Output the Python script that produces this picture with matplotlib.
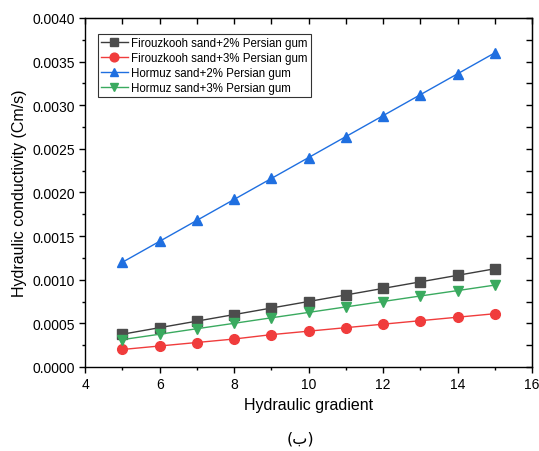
import matplotlib
matplotlib.use("Agg")
import matplotlib.pyplot as plt
from matplotlib.ticker import MultipleLocator

plt.rcParams['font.family'] = ['Liberation Sans', 'DejaVu Sans']

gradient = [5, 6, 7, 8, 9, 10, 11, 12, 13, 14, 15]
firouzkooh_2 = [0.000375, 0.00045, 0.000525, 0.0006, 0.000675, 0.00075, 0.000825, 0.0009, 0.000975, 0.00105, 0.001125]
firouzkooh_3 = [0.0002, 0.00024, 0.00028, 0.00032, 0.00037, 0.00041, 0.00045, 0.00049, 0.00053, 0.00057, 0.00061]
hormuz_2 = [0.0012, 0.00144, 0.00168, 0.00192, 0.00216, 0.0024, 0.00264, 0.00288, 0.00312, 0.00336, 0.0036]
hormuz_3 = [0.000313, 0.000375, 0.000438, 0.0005, 0.000563, 0.000625, 0.000688, 0.00075, 0.000813, 0.000875, 0.000938]
labels = ["Firouzkooh sand+2% Persian gum", "Firouzkooh sand+3% Persian gum",
          "Hormuz sand+2% Persian gum", "Hormuz sand+3% Persian gum"]

fig = plt.figure(figsize=(5.39, 4.52), dpi=100)
ax = fig.add_axes([0.158, 0.186, 0.829, 0.772])

styles = [
    dict(color='#3c3c3c', marker='s', mfc='#4d4d4d', mec='#4d4d4d'),
    dict(color='#f03c3c', marker='o', mfc='#f03c3c', mec='#f03c3c'),
    dict(color='#1f6fe0', marker='^', mfc='#1f6fe0', mec='#1f6fe0'),
    dict(color='#3aaa5f', marker='v', mfc='#3aaa5f', mec='#3aaa5f'),
]
for ys, lab, st in zip([firouzkooh_2, firouzkooh_3, hormuz_2, hormuz_3], labels, styles):
    ax.plot(gradient, ys, label=lab, lw=1.0, ms=7, **st)

ax.set_xlim(4, 16)
ax.set_ylim(0, 0.004)
ax.xaxis.set_major_locator(MultipleLocator(2))
ax.xaxis.set_minor_locator(MultipleLocator(1))
ax.yaxis.set_major_locator(MultipleLocator(0.0005))
ax.yaxis.set_minor_locator(MultipleLocator(0.00025))
ax.yaxis.set_major_formatter(plt.FuncFormatter(lambda v, p: f"{v:.4f}"))
ax.tick_params(axis='both', which='major', direction='out', length=4, width=1, labelsize=10, top=False, right=False)
ax.tick_params(axis='both', which='minor', direction='out', length=2.5, width=1, top=False, right=False)

# inward mirrored ticks on top and right
secx = ax.secondary_xaxis('top')
secx.xaxis.set_major_locator(MultipleLocator(1))
secx.tick_params(direction='in', length=4, width=1, labeltop=False)
secx.set_xticklabels([])
secy = ax.secondary_yaxis('right')
secy.yaxis.set_major_locator(MultipleLocator(0.00025))
secy.tick_params(direction='in', length=4, width=1, labelright=False)

for s in ax.spines.values():
    s.set_linewidth(1.0)

ax.set_xlabel("Hydraulic gradient", fontsize=11.5, labelpad=4)
ax.set_ylabel("Hydraulic conductivity (Cm/s)", fontsize=11.5, labelpad=4)

leg = ax.legend(loc='upper left', bbox_to_anchor=(0.02, 0.965), fontsize=8.3, frameon=True,
                fancybox=False, edgecolor='black', handlelength=2.3, handletextpad=0.3,
                labelspacing=0.25, borderpad=0.3, borderaxespad=0.3, markerscale=0.9)
leg.get_frame().set_linewidth(0.8)

fig.text(0.557, 0.012, "(ب)", ha='center', va='bottom', fontsize=11.5, family=['DejaVu Sans'])

fig.savefig("out.png", dpi=100)
